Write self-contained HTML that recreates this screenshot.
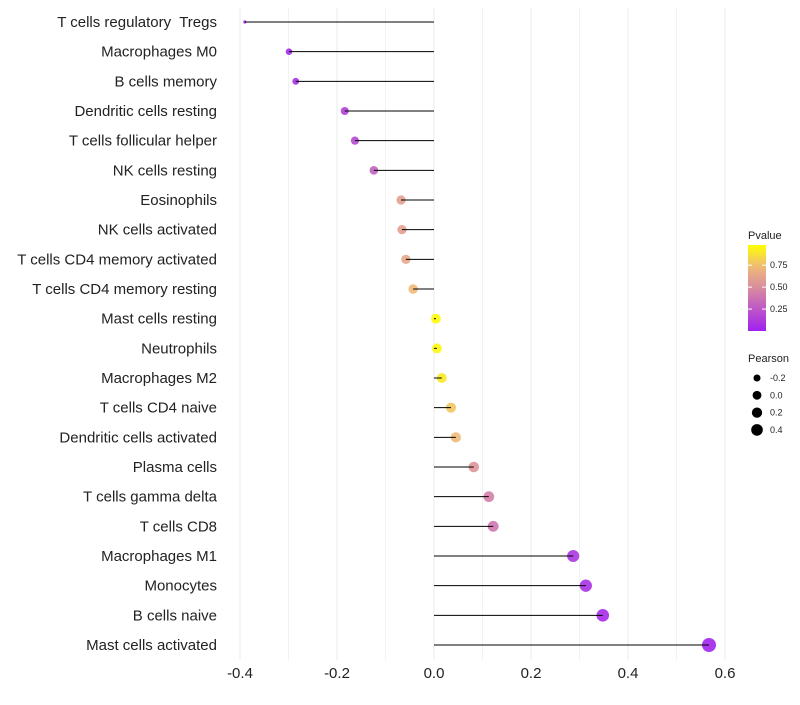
<!DOCTYPE html>
<html><head><meta charset="utf-8"><style>
body{margin:0;background:#fff;font-family:"Liberation Sans",sans-serif}
</style></head><body>
<svg id="chart" width="800" height="700" xmlns="http://www.w3.org/2000/svg"></svg>
<script>
const categories=["T cells regulatory  Tregs","Macrophages M0","B cells memory","Dendritic cells resting","T cells follicular helper","NK cells resting","Eosinophils","NK cells activated","T cells CD4 memory activated","T cells CD4 memory resting","Mast cells resting","Neutrophils","Macrophages M2","T cells CD4 naive","Dendritic cells activated","Plasma cells","T cells gamma delta","T cells CD8","Macrophages M1","Monocytes","B cells naive","Mast cells activated"];
const pearson=[-0.39,-0.299,-0.285,-0.184,-0.163,-0.124,-0.068,-0.066,-0.058,-0.043,0.004,0.006,0.016,0.035,0.045,0.082,0.113,0.122,0.287,0.313,0.348,0.567];
const pvalues=[0.02,0.05,0.06,0.15,0.2,0.3,0.6,0.6,0.65,0.75,0.98,0.97,0.92,0.8,0.75,0.55,0.45,0.4,0.1,0.08,0.05,0.02];
const xTicks=[-0.4,-0.2,0.0,0.2,0.4,0.6];
const xTickLabels=["-0.4","-0.2","0.0","0.2","0.4","0.6"];
const colorTicks=[0.25,0.5,0.75];
const sizeLegend=[-0.2,0,0.2,0.4];

const NS="http://www.w3.org/2000/svg";
const svg=document.getElementById('chart');
function el(t,a,p){const e=document.createElementNS(NS,t);for(const k in a)e.setAttribute(k,a[k]);(p||svg).appendChild(e);return e;}
const xs=v=>434+v*485;
const ys=i=>22+i*(623/21);
const minP=Math.min(...pearson);
const rs=v=>v<=minP+0.01?1.6:Math.sqrt(Math.max(2,24.1+43.9*v));
const stops=[[0,[160,32,240]],[0.5,[216,140,160]],[0.75,[240,185,120]],[1,[255,255,0]]];
function col(p){for(let i=1;i<stops.length;i++){if(p<=stops[i][0]){const a=stops[i-1],b=stops[i];const t=(p-a[0])/(b[0]-a[0]);return 'rgb('+a[1].map((c,j)=>Math.round(c+(b[1][j]-c)*t)).join(',')+')';}}return 'rgb(255,255,0)';}

for(let g=-4;g<=6;g++){const l=el('line',{x1:xs(g/10),x2:xs(g/10),y1:8,y2:660,stroke:g%2===0?'#ebebeb':'#f2f2f2','stroke-width':1});
}
xTicks.forEach((v,i)=>{const t=el('text',{x:xs(v),y:678,'text-anchor':'middle','font-size':15,fill:'#222'});t.textContent=xTickLabels[i];
});
categories.forEach((c,i)=>{const y=ys(i);
const t=el('text',{x:217,y:y+5,'text-anchor':'end','font-size':15,fill:'#222'});t.setAttribute('style','white-space:pre');t.textContent=c;

const ci=el('circle',{cx:xs(pearson[i]),cy:y,r:rs(pearson[i]),fill:col(pvalues[i]),'fill-opacity':0.9});

const l=el('line',{x1:xs(0),x2:xs(pearson[i]),y1:y,y2:y,stroke:'#000','stroke-width':1});
});

const lt=el('text',{x:748,y:239,'font-size':11,fill:'#222'});lt.textContent='Pvalue';

const defs=el('defs',{});const gr=el('linearGradient',{id:'pg',x1:0,y1:1,x2:0,y2:0},defs);
for(let k=0;k<=10;k++)el('stop',{offset:k/10,'stop-color':col(k/10)},gr);
const cb=el('rect',{x:748,y:245,width:18,height:86,fill:'url(#pg)'});

colorTicks.forEach(v=>{const y=331-v*86/0.98;
el('line',{x1:748,x2:752,y1:y,y2:y,stroke:'#fff'});el('line',{x1:762,x2:766,y1:y,y2:y,stroke:'#fff'});
const t=el('text',{x:770,y:y+3,'font-size':9,fill:'#222'});t.textContent=v.toFixed(2);
});
const st=el('text',{x:748,y:362,'font-size':11,fill:'#222'});st.textContent='Pearson';

sizeLegend.forEach((v,i)=>{const y=378+i*17.3;
const c=el('circle',{cx:757,cy:y,r:Math.sqrt(24.1+43.9*v)*0.9,fill:'#000'});

const t=el('text',{x:770,y:y+3,'font-size':9,fill:'#222'});t.textContent=v.toFixed(1);
});
</script>
</body></html>
